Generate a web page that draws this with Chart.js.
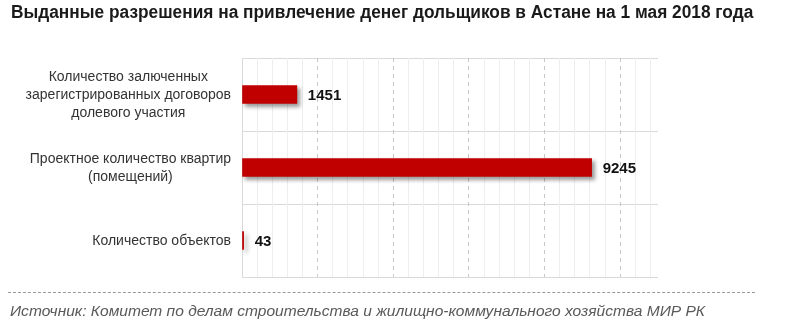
<!DOCTYPE html>
<html lang="ru">
<head>
    <meta charset="UTF-8">
    <title>Выданные разрешения</title>
    <script src="https://cdn.jsdelivr.net/npm/chart.js"></script>
    <style>
        html, body {
            margin: 0;
            padding: 0;
            background: #ffffff;
        }
        #wrap {
            position: relative;
            width: 800px;
            height: 326px;
            overflow: hidden;
        }
        #chart {
            position: absolute;
            left: 0;
            top: 0;
        }
        .title {
            position: absolute;
            left: 11px;
            top: 2px;
            font-family: 'Liberation Sans', Arial, sans-serif;
            font-weight: bold;
            font-size: 18px;
            color: #1a1a1a;
            white-space: nowrap;
            transform-origin: 0 0;
        }
        .line {
            position: absolute;
            left: 8px;
            top: 292px;
            width: 747px;
            border-top: 1px dashed #9a9a9a;
        }
        .source {
            position: absolute;
            left: 10px;
            top: 303px;
            font-family: 'Liberation Sans', Arial, sans-serif;
            font-style: italic;
            font-size: 14px;
            color: #595959;
            white-space: nowrap;
            transform-origin: 0 0;
        }
    </style>
</head>
<body>
<div id="wrap">
    <canvas id="chart" width="800" height="326"></canvas>
    <div class="title" id="title">Выданные разрешения на привлечение денег дольщиков в Астане на 1 мая 2018 года</div>
    <div class="line"></div>
    <div class="source" id="source">Источник: Комитет по делам строительства и жилищно-коммунального хозяйства МИР РК</div>
</div>
<script>
    /* данные */
    const categories = [
        ['Количество залюченных', 'зарегистрированных договоров', 'долевого участия'],
        ['Проектное количество квартир', '(помещений)'],
        ['Количество объектов']
    ];
    const values = [1451, 9245, 43];
    const axisMax = 11000;
    const minorStep = 400;
    const majorStep = 2000;

    /* ужать текст до ширины как на картинке */
    function fitWidth(id, w) {
        const el = document.getElementById(id);
        el.style.transform = 'scaleX(' + (w / el.offsetWidth) + ')';
    }
    fitWidth('title', 742);
    fitWidth('source', 695);

    /* деления оси заданы явно, иначе Chart.js подгоняет шаг под max */
    function stepTicks(step) {
        return scale => {
            const t = [];
            for (let v = 0; v < axisMax; v += step) t.push({ value: v });
            scale.ticks = t;
        };
    }

    /* тень у столбцов */
    const barShadow = {
        id: 'barShadow',
        beforeDatasetsDraw(chart) {
            const c = chart.ctx;
            c.save();
            c.shadowColor = 'rgba(0, 0, 0, 0.4)';
            c.shadowBlur = 4;
            c.shadowOffsetX = 3;
            c.shadowOffsetY = 3;
        },
        afterDatasetsDraw(chart) {
            chart.ctx.restore();
        }
    };

    /* подписи значений и категорий */
    const labels = {
        id: 'labels',
        afterDraw(chart) {
            const c = chart.ctx;
            const meta = chart.getDatasetMeta(0);
            c.save();
            c.font = 'bold 15px "Liberation Sans", Arial, sans-serif';
            c.fillStyle = '#111';
            c.textAlign = 'left';
            c.textBaseline = 'middle';
            meta.data.forEach((bar, i) => {
                c.fillText(String(values[i]), bar.x + 11, bar.y + 1);
            });

            const y = chart.scales.y;
            const right = chart.chartArea.left - 11;
            const lh = 18;
            c.font = '14px "Liberation Sans", Arial, sans-serif';
            c.fillStyle = '#333';
            c.textAlign = 'center';
            categories.forEach((lines, i) => {
                const w = Math.max(...lines.map(t => c.measureText(t).width));
                const cx = right - w / 2;
                const cy = y.getPixelForValue(i) + 1;
                const y0 = cy - (lines.length - 1) * lh / 2;
                lines.forEach((t, k) => c.fillText(t, cx, y0 + k * lh));
            });
            c.restore();
        }
    };

    new Chart(document.getElementById('chart'), {
        type: 'bar',
        data: {
            labels: categories,
            datasets: [{
                data: values,
                backgroundColor: '#c00000',
                barThickness: 18,
                borderWidth: 0
            }]
        },
        plugins: [barShadow, labels],
        options: {
            indexAxis: 'y',
            responsive: false,
            animation: false,
            layout: {
                padding: { top: 58, right: 142, bottom: 49, left: 0 }
            },
            plugins: {
                legend: { display: false },
                tooltip: { enabled: false },
                title: { display: false }
            },
            scales: {
                y: {
                    ticks: { display: false },
                    grid: {
                        offset: true,
                        color: '#d9d9d9',
                        drawTicks: false
                    },
                    border: { display: false },
                    afterFit(s) { s.width = 242; }
                },
                x: {
                    min: 0,
                    max: axisMax,
                    ticks: { display: false },
                    afterBuildTicks: stepTicks(minorStep),
                    grid: {
                        drawTicks: false,
                        color: ctx => {
                            const v = ctx.tick ? ctx.tick.value : 0;
                            if (v !== 0 && v % majorStep === 0) return 'transparent';
                            return v === 0 ? '#d9d9d9' : '#eeeeee';
                        }
                    },
                    border: { display: false },
                    afterFit(s) { s.height = 0; }
                },
                x2: {
                    axis: 'x',
                    position: 'bottom',
                    min: 0,
                    max: axisMax,
                    ticks: { display: false },
                    afterBuildTicks: stepTicks(majorStep),
                    grid: {
                        drawTicks: false,
                        color: ctx => {
                            const v = ctx.tick ? ctx.tick.value : 0;
                            return v === 0 ? 'transparent' : '#c8c8c8';
                        }
                    },
                    border: { display: false, dash: [4, 4] },
                    afterFit(s) { s.height = 0; }
                }
            }
        }
    });
</script>
</body>
</html>
